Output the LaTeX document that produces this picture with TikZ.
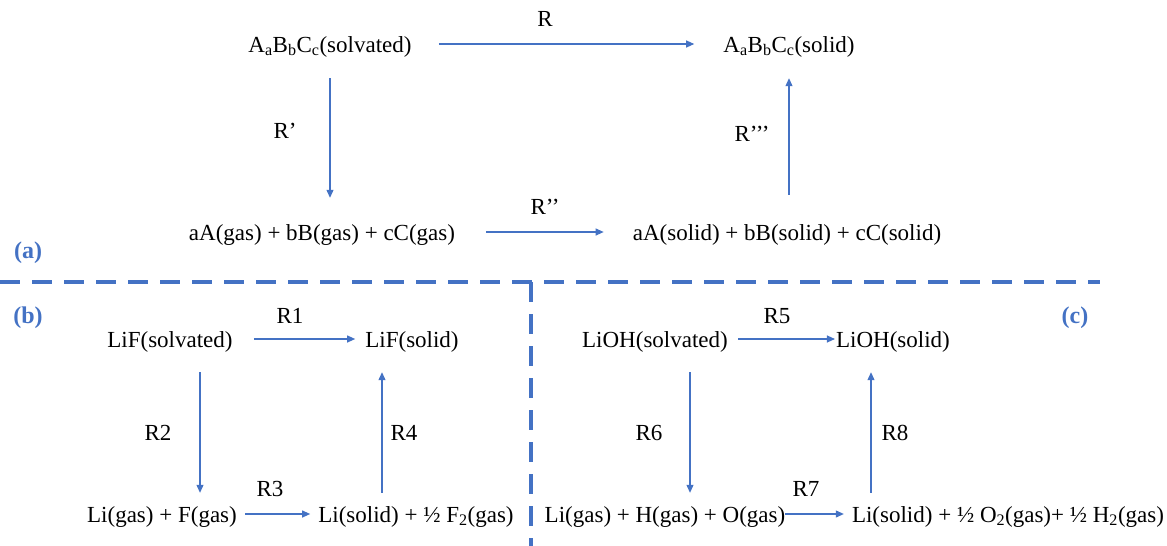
\documentclass[tikz,border=0pt]{standalone}
\usepackage{fontspec}
\setmainfont{Liberation Serif}
\usepackage{tikz}
\usetikzlibrary{calc}
\usetikzlibrary{arrows.meta,positioning}
\definecolor{rblue}{RGB}{68,114,196}

\tikzset{
  chem/.style={font=\fontsize{23}{27}\selectfont, anchor=base, inner sep=0pt, text height=16pt, text depth=0pt},
  rlab/.style={font=\fontsize{23}{27}\selectfont, anchor=base, inner sep=0pt},
  rxn/.style={-{Triangle[length=8pt,width=7pt]}, rblue, line width=1.1pt},
  panel/.style={font=\fontsize{24}{28}\selectfont\bfseries, text=rblue, anchor=base, inner sep=0pt},
  sepline/.style={rblue, line width=4.5pt, dash pattern=on 20pt off 12pt},
}

\begin{document}
\begin{tikzpicture}[x=1pt,y=-1pt]
	\useasboundingbox (0,0) rectangle (1167,546);
	
	% (a) general cycle
	\node[chem] (solv)   at (330,52)  {A\textsubscript{a}B\textsubscript{b}C\textsubscript{c}(solvated)};
	\node[chem] (solid)  at (789,52)  {A\textsubscript{a}B\textsubscript{b}C\textsubscript{c}(solid)};
	\node[chem] (gasA)   at (322,240) {aA(gas) + bB(gas) + cC(gas)};
	\node[chem] (solidA) at (787,240) {aA(solid) + bB(solid) + cC(solid)};
	
	\draw[rxn, shorten <=27pt, shorten >=29pt] (solv.east) -- (solid.west);
	\draw[rxn, shorten <=26pt, shorten >=26pt] (solv.south) -- (solv.south |- gasA.north);
	\draw[rxn, shorten <=31pt, shorten >=29pt] (gasA.east) -- (solidA.west);
	\draw[rxn, shorten <=29pt, shorten >=26pt] (solidA.north -| solid.south) -- (solid.south);
	
	\node[rlab] (rA)  at (545,26)  {R};
	\node[rlab] (rB)  at (285,138) {R’};
	\node[rlab] (rC)  at (545,214) {R’’};
	\node[rlab] (rD)  at (752,141) {R’’’};
	\node[panel] (pa) at (28,258) {(a)};
	
	% separators
	\coordinate (hl) at (0,282);
	\coordinate (hr) at (1100,282);
	\coordinate (vt) at (531,282);
	\coordinate (vb) at (531,546);
	\draw[sepline] (hl) -- (hr);
	\draw[sepline] (vt) -- (vb);
	
	% (b) LiF
	\node[chem] (lifsolv) at (170,347) {LiF(solvated)};
	\node[chem] (lifsol)  at (412,347) {LiF(solid)};
	\node[chem] (lifgas)  at (162,522) {Li(gas) + F(gas)};
	\node[chem] (lisolF)  at (416,522) {Li(solid) + ½ F\textsubscript{2}(gas)};
	
	\draw[rxn, shorten <=21pt, shorten >=10pt] (lifsolv.east) -- (lifsol.west);
	\draw[rxn, shorten <=25pt, shorten >=13pt] ($(lifsolv.south)+(30,0)$) -- ($(lifsolv.south |- lifgas.north)+(30,0)$);
	\draw[rxn, shorten <=8pt, shorten >=8pt] (lifgas.east) -- (lisolF.west);
	\draw[rxn, shorten <=13pt, shorten >=25pt] ($(lifsol.south |- lisolF.north)+(-30,0)$) -- ($(lifsol.south)+(-30,0)$);
	
	\node[rlab] (r1) at (290,323) {R1};
	\node[rlab] (r2) at (158,440) {R2};
	\node[rlab] (r3) at (270,496) {R3};
	\node[rlab] (r4) at (404,440) {R4};
	\node[panel] (pb) at (28,323) {(b)};
	
	% (c) LiOH
	\node[chem] (liohsolv) at (655,347)  {LiOH(solvated)};
	\node[chem] (liohsol)  at (893,347)  {LiOH(solid)};
	\node[chem] (liohgas)  at (665,522)  {Li(gas) + H(gas) + O(gas)};
	\node[chem] (lisolO)   at (1008,522) {Li(solid) + ½ O\textsubscript{2}(gas)+ ½ H\textsubscript{2}(gas)};
	
	\draw[rxn, shorten <=10pt, shorten >=1pt] (liohsolv.east) -- (liohsol.west);
	\draw[rxn, shorten <=25pt, shorten >=13pt] ($(liohsolv.south)+(35,0)$) -- ($(liohsolv.south |- liohgas.north)+(35,0)$);
	\draw[rxn, shorten <=0pt, shorten >=8pt] (liohgas.east) -- (lisolO.west);
	\draw[rxn, shorten <=13pt, shorten >=25pt] ($(liohsol.south |- lisolO.north)+(-22,0)$) -- ($(liohsol.south)+(-22,0)$);
	
	\node[rlab] (r5) at (777,323) {R5};
	\node[rlab] (r6) at (649,440) {R6};
	\node[rlab] (r7) at (806,496) {R7};
	\node[rlab] (r8) at (895,440) {R8};
	\node[panel] (pc) at (1075,323) {(c)};
\end{tikzpicture}
\end{document}
